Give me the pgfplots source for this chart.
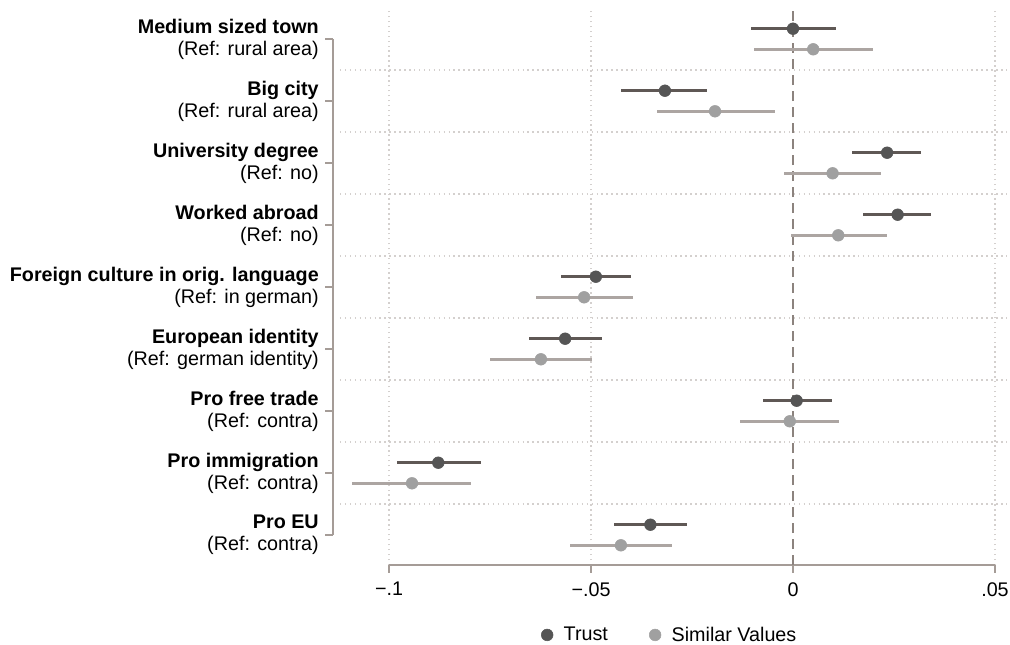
\documentclass[border=0pt]{standalone}
\usepackage{pgfplots}
\pgfplotsset{compat=1.18}
\usepackage{pgfplotstable}
\usepackage{fontspec}
\setmainfont{Liberation Sans}
\definecolor{axiscol}{RGB}{165,156,151}
\definecolor{gridcol}{RGB}{212,208,206}
\definecolor{zerocol}{RGB}{140,131,126}
\definecolor{trustline}{RGB}{95,88,85}
\definecolor{trustdot}{RGB}{85,85,85}
\definecolor{simline}{RGB}{172,165,162}
\definecolor{simdot}{RGB}{160,160,160}
\newcommand{\lab}{\fontsize{14.8}{16.5}\selectfont}

% y = category position (9 = top) plus offset; b = estimate; lo/hi = CI
\pgfplotstableread{
y b lo hi
9.166 0.0000 -0.0104 0.0106
8.166 -0.0317 -0.0426 -0.0212
7.166 0.0233 0.0147 0.0317
6.166 0.0259 0.0173 0.0342
5.166 -0.0488 -0.0574 -0.0401
4.166 -0.0564 -0.0653 -0.0473
3.166 0.0009 -0.0075 0.0096
2.166 -0.0878 -0.0981 -0.0772
1.166 -0.0353 -0.0443 -0.0263
}\trust

\pgfplotstableread{
y b lo hi
8.834 0.0050 -0.0096 0.0199
7.834 -0.0193 -0.0337 -0.0045
6.834 0.0098 -0.0023 0.0218
5.834 0.0112 -0.0005 0.0232
4.834 -0.0517 -0.0636 -0.0395
3.834 -0.0624 -0.0749 -0.0498
2.834 -0.0008 -0.0131 0.0114
1.834 -0.0943 -0.1092 -0.0796
0.834 -0.0426 -0.0551 -0.0300
}\simval

\begin{document}
\begin{tikzpicture}
\useasboundingbox (-255pt,-59.25pt) rectangle (502.5pt,423.75pt);
\begin{axis}[
  at={(0,0)}, anchor=south west,
  width=500.25pt, height=416.25pt, scale only axis,
  xmin=-0.11213, xmax=0.05297, ymin=0.5161, ymax=9.4677,
  clip=false,
  axis line style={draw=none},
  major tick length=0pt, minor tick length=0pt,
  scaled x ticks=false,
  xtick={-0.1,-0.05,0.05}, xticklabels={−.1,−.05,.05},
  extra x ticks={0}, extra x tick labels={0},
  extra x tick style={grid=none},
  xmajorgrids,
  xticklabel style={font=\lab, inner sep=0pt, anchor=north, yshift=-12.75pt},
  ytick={1,...,9},
  yticklabels={
    {\textbf{Pro EU}\\(Ref: contra)},
    {\textbf{Pro immigration}\\(Ref: contra)},
    {\textbf{Pro free trade}\\(Ref: contra)},
    {\textbf{European identity}\\(Ref: german identity)},
    {\textbf{Foreign culture in orig. language}\\(Ref: in german)},
    {\textbf{Worked abroad}\\(Ref: no)},
    {\textbf{University degree}\\(Ref: no)},
    {\textbf{Big city}\\(Ref: rural area)},
    {\textbf{Medium sized town}\\(Ref: rural area)}},
  yticklabel style={font=\lab, align=right, inner sep=0pt, anchor=east, xshift=-15.75pt},
  minor ytick={1.5,2.5,3.5,4.5,5.5,6.5,7.5,8.5},
  yminorgrids,
  major grid style={gridcol, line width=1.1pt, dash pattern=on 1.1pt off 2.6pt},
  minor grid style={gridcol, line width=1.1pt, dash pattern=on 1.1pt off 2.6pt},
  legend style={at={(0.495,-0.126)}, anchor=center, draw=none, fill=none,
    font=\lab, legend columns=2, inner sep=0pt,
    /tikz/every odd column/.append style={column sep=6pt},
    /tikz/every even column/.append style={column sep=29pt}},
]
% axes drawn over the tick range only (Stata style)
\draw[axiscol, line width=1.5pt] ([xshift=-5.25pt]axis cs:-0.11213,1) -- ([xshift=-5.25pt]axis cs:-0.11213,9);
\pgfplotsinvokeforeach{1,2,3,4,5,6,7,8,9}{
  \draw[axiscol, line width=1.5pt] ([xshift=-5.25pt]axis cs:-0.11213,#1) -- ([xshift=-11.25pt]axis cs:-0.11213,#1);
}
\draw[axiscol, line width=1.5pt] (axis cs:-0.1,0.5161) -- (axis cs:0.05,0.5161);
\pgfplotsinvokeforeach{-0.1,-0.05,0,0.05}{
  \draw[axiscol, line width=1.5pt] (axis cs:#1,0.5161) -- ([yshift=-6pt]axis cs:#1,0.5161);
}
% zero reference line
\addplot[zerocol, line width=1.5pt, dash pattern=on 7.5pt off 4.5pt, forget plot]
  coordinates {(0,0.5161) (0,9.4677)};
% confidence intervals
\addplot[only marks, mark=none, forget plot,
  error bars/.cd, x dir=both, x explicit, error mark=none,
  error bar style={line width=2.2pt, trustline}]
  table[x=b, y=y, x error plus expr=\thisrow{hi}-\thisrow{b}, x error minus expr=\thisrow{b}-\thisrow{lo}] {\trust};
\addplot[only marks, mark=none, forget plot,
  error bars/.cd, x dir=both, x explicit, error mark=none,
  error bar style={line width=1.9pt, simline}]
  table[x=b, y=y, x error plus expr=\thisrow{hi}-\thisrow{b}, x error minus expr=\thisrow{b}-\thisrow{lo}] {\simval};
% point estimates
\addplot[only marks, mark=*, mark size=4.4pt, mark options={draw=trustdot, fill=trustdot}]
  table[x=b, y=y] {\trust};
\addlegendentry{Trust}
\addplot[only marks, mark=*, mark size=4.4pt, mark options={draw=simdot, fill=simdot}]
  table[x=b, y=y] {\simval};
\addlegendentry{Similar Values}
\end{axis}
\end{tikzpicture}
\end{document}
